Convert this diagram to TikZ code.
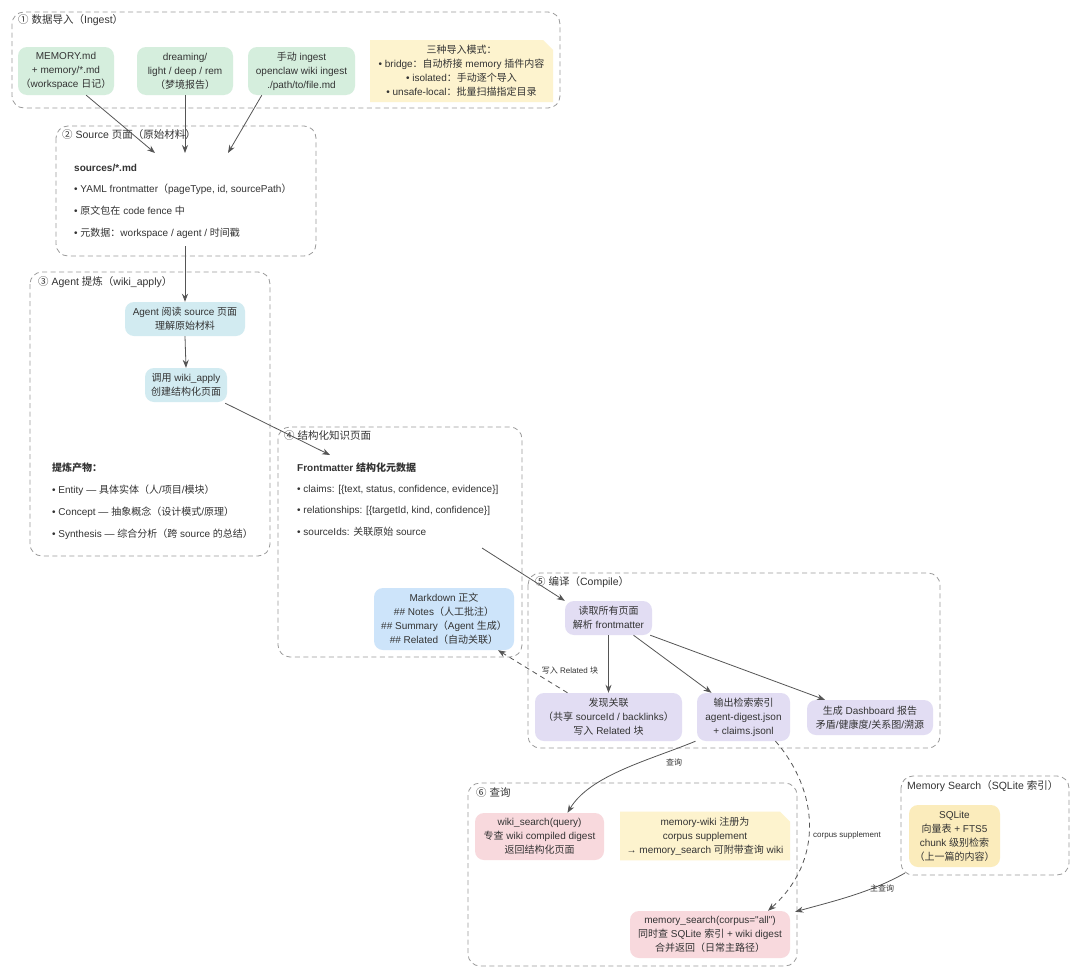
\documentclass[tikz,border=0pt]{standalone}
\usepackage{fontspec}
\setmainfont{Liberation Sans}
\newfontfamily\latf{Liberation Sans}
\newfontfamily\cjkf{Noto Sans CJK SC}
\XeTeXinterchartokenstate=1
\newXeTeXintercharclass\cjkcls
\newcount\cjkcc
\def\setcjkrange#1#2{\cjkcc=#1\relax
  \loop\ifnum\cjkcc<#2\relax\XeTeXcharclass\cjkcc=\cjkcls\advance\cjkcc by 1\repeat}
\setcjkrange{"3000}{"3100}
\setcjkrange{"4E00}{"A000}
\setcjkrange{"FF00}{"FFF0}
\setcjkrange{"2460}{"2500}
\XeTeXinterchartoks 0 \cjkcls = {\cjkf}
\XeTeXinterchartoks 4095 \cjkcls = {\cjkf}
\XeTeXinterchartoks \cjkcls 0 = {\latf}
\XeTeXinterchartoks \cjkcls 4095 = {\latf}
\usetikzlibrary{arrows.meta,shapes.misc}
\definecolor{txt}{HTML}{333333}
\definecolor{secline}{HTML}{9A9A9A}
\definecolor{arr}{HTML}{555555}
\definecolor{cgreen}{HTML}{D5EEDD}
\definecolor{ccyan}{HTML}{D2EBF1}
\definecolor{cblue}{HTML}{CDE4FA}
\definecolor{clav}{HTML}{E2DDF3}
\definecolor{cpink}{HTML}{F8D9DD}
\definecolor{cnote}{HTML}{FDF3CE}
\definecolor{csql}{HTML}{FBECBC}
\tikzset{
  sec/.style={draw=secline, line width=0.8pt, dash pattern=on 5pt off 3.5pt, rounded corners=12pt},
  sectitle/.style={anchor=west, font=\latf\fontsize{10.5}{12}\selectfont, text=txt, inner sep=0},
  box/.style={rounded corners=9pt, align=center, inner sep=0, text=txt,
    font=\latf\fontsize{10}{14}\selectfont},
  gbox/.style={box, fill=cgreen},
  cbox/.style={box, fill=ccyan},
  bbox/.style={box, fill=cblue},
  lbox/.style={box, fill=clav},
  pbox/.style={box, fill=cpink},
  notebox/.style={chamfered rectangle, chamfered rectangle corners=north east,
    chamfered rectangle xsep=5pt, chamfered rectangle ysep=5pt, align=center, inner sep=0, text=txt,
    font=\latf\fontsize{10}{14}\selectfont},
  listtxt/.style={anchor=west, inner sep=0, text=txt, font=\latf\fontsize{10}{12}\selectfont},
  boldtxt/.style={listtxt, font=\latf\fontsize{10}{12}\selectfont\bfseries},
  conn/.style={draw=arr, line width=0.8pt, -{Stealth[length=8pt,width=6pt]}},
  dconn/.style={conn, dash pattern=on 5pt off 4pt},
  lbl/.style={inner sep=1pt, text=txt, font=\latf\fontsize{8}{9}\selectfont}
}
\begin{document}
\begin{tikzpicture}[x=1pt,y=-1pt]
\useasboundingbox[fill=white] (0,0) rectangle (1080,977);

% ---------- section 1
\draw[sec] (12,12) rectangle (560,108);
\node[sectitle] (t1) at (18,20) {① 数据导入（Ingest）};
\node[gbox, minimum width=96, minimum height=48] (mem) at (66,71) {MEMORY.md\\+ memory/*.md\\（workspace 日记）};
\node[gbox, minimum width=96, minimum height=48] (dream) at (185,71) {dreaming/\\light / deep / rem\\（梦境报告）};
\node[gbox, minimum width=107, minimum height=48] (manual) at (301.5,71) {手动 ingest\\openclaw wiki ingest\\./path/to/file.md};
\node[notebox, fill=cnote, minimum width=183, minimum height=62] (modes) at (461.5,71) {三种导入模式：\\• bridge：自动桥接 memory 插件内容\\• isolated：手动逐个导入\\• unsafe-local：批量扫描指定目录};

% ---------- section 2
\draw[sec] (56,126) rectangle (316,256);
\node[sectitle] (t2) at (62,135) {② Source 页面（原始材料）};
\node[boldtxt] (s0) at (74,168) {sources/*.md};
\node[listtxt] (s1) at (74,189) {• YAML frontmatter（pageType, id, sourcePath）};
\node[listtxt] (s2) at (74,211) {• 原文包在 code fence 中};
\node[listtxt] (s3) at (74,233) {• 元数据：workspace / agent / 时间戳};
\coordinate (in2a) at (155,153);
\coordinate (in2b) at (185,153);
\coordinate (in2c) at (228,153);
\coordinate (out2) at (185,246);

% ---------- section 3
\draw[sec] (30,272) rectangle (270,556);
\node[sectitle] (t3) at (38,282) {③ Agent 提炼（wiki\_apply）};
\node[cbox, minimum width=120, minimum height=34] (read) at (185,319) {Agent 阅读 source 页面\\理解原始材料};
\node[cbox, minimum width=82, minimum height=34] (apply) at (186,385) {调用 wiki\_apply\\创建结构化页面};
\node[boldtxt] (p0) at (52,468) {提炼产物：};
\node[listtxt] (p1) at (52,490) {• Entity — 具体实体（人/项目/模块）};
\node[listtxt] (p2) at (52,512) {• Concept — 抽象概念（设计模式/原理）};
\node[listtxt] (p3) at (52,534) {• Synthesis — 综合分析（跨 source 的总结）};

% ---------- section 4
\draw[sec] (278,427) rectangle (522,657);
\node[sectitle] (t4) at (284,436) {④ 结构化知识页面};
\node[boldtxt] (f0) at (297,468) {Frontmatter 结构化元数据};
\node[listtxt] (f1) at (297,490) {• claims: [\{text, status, confidence, evidence\}]};
\node[listtxt] (f2) at (297,511) {• relationships: [\{targetId, kind, confidence\}]};
\node[listtxt] (f3) at (297,532) {• sourceIds: 关联原始 source};
\node[bbox, minimum width=140, minimum height=62] (md) at (444,619) {Markdown 正文\\\#\# Notes（人工批注）\\\#\# Summary（Agent 生成）\\\#\# Related（自动关联）};
\coordinate (in4) at (330,455);
\coordinate (out4) at (482,548);

% ---------- section 5
\draw[sec] (528,573) rectangle (940,748);
\node[sectitle] (t5) at (535,582) {⑤ 编译（Compile）};
\node[lbox, minimum width=87, minimum height=34] (parse) at (608.5,618) {读取所有页面\\解析 frontmatter};
\node[lbox, minimum width=147, minimum height=48] (rel) at (608.5,717) {发现关联\\（共享 sourceId / backlinks）\\写入 Related 块};
\node[lbox, minimum width=93, minimum height=48] (idx) at (743.5,717) {输出检索索引\\agent-digest.json\\+ claims.jsonl};
\node[lbox, minimum width=126, minimum height=35] (dash) at (870,717.5) {生成 Dashboard 报告\\矛盾/健康度/关系图/溯源};

% ---------- section 6
\draw[sec] (468,783) rectangle (797,966);
\node[sectitle] (t6) at (476,793) {⑥ 查询};
\node[pbox, minimum width=129, minimum height=47] (ws) at (539.5,836.5) {wiki\_search(query)\\专查 wiki compiled digest\\返回结构化页面};
\node[notebox, fill=cnote, minimum width=170, minimum height=48] (corp) at (705,836) {memory-wiki 注册为\\corpus supplement\\→ memory\_search 可附带查询 wiki};
\node[pbox, minimum width=160, minimum height=47] (ms) at (710,934.5) {memory\_search(corpus="all")\\同时查 SQLite 索引 + wiki digest\\合并返回（日常主路径）};

% ---------- memory search section
\draw[sec] (901,776) rectangle (1069,875);
\node[sectitle] (t7) at (907,786) {Memory Search（SQLite 索引）};
\node[box, fill=csql, minimum width=91, minimum height=62] (sql) at (954.5,836) {SQLite\\向量表 + FTS5\\chunk 级别检索\\（上一篇的内容）};
\coordinate (outM) at (905,873);

% ---------- connectors
\draw[conn] (mem.south east) ++(-28,0) coordinate (m1) -- (in2a);
\draw[conn] (dream.south) -- (in2b);
\draw[conn] (manual.south west) ++(14,0) coordinate (m3) -- (in2c);
\draw[conn] (out2) -- (read.north);
\draw[conn] (read.south) -- (apply.north);
\draw[conn] (apply.south east) ++(-2,1) coordinate (a1) -- (in4);
\draw[conn] (out4) -- (parse.north west);
\draw[conn] (parse.south) -- (rel.north);
\draw[conn] ([xshift=25pt]parse.south) -- ([xshift=-32pt]idx.north);
\draw[conn] ([xshift=-2pt]parse.south east) -- ([xshift=-45pt]dash.north);
\draw[dconn] ([xshift=-41pt]rel.north) -- ([xshift=54pt]md.south);
\node[lbl] (l1) at (570,671) {写入 Related 块};
\draw[conn] ([xshift=-48pt]idx.south) .. controls (650,760) and (590,775) .. ([xshift=28pt]ws.north);
\node[lbl] (l2) at (674,762) {查询};
\draw[dconn] ([xshift=32pt]idx.south) .. controls (818,790) and (825,860) .. ([xshift=58pt]ms.north);
\node[lbl, anchor=west] (l3) at (812,835) {corpus supplement};
\draw[conn] (outM) .. controls (870,893) and (830,902) .. ([xshift=5pt,yshift=-1pt]ms.north east);
\node[lbl] (l4) at (882,888) {主查询};
\end{tikzpicture}
\end{document}
